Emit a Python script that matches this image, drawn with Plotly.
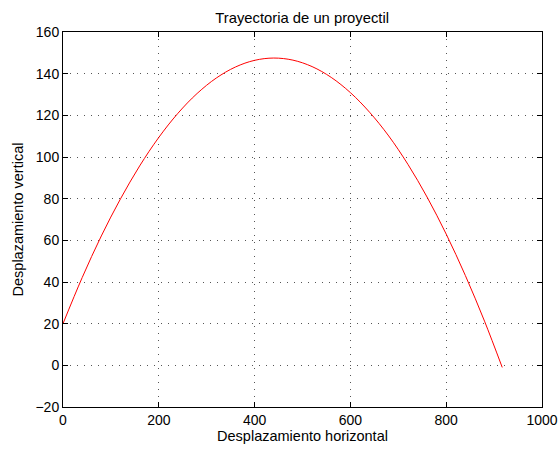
import plotly.graph_objects as go

# Data
x_desp = [0, 40, 80, 120, 160, 200, 240, 280, 320, 360, 400, 440, 480, 520,
          560, 600, 640, 680, 720, 760, 800, 840, 880, 917]
y_desp = [20.0, 42.1, 62.1, 79.9, 95.7, 109.4, 121.0, 130.5, 137.9, 143.2,
          146.4, 147.5, 146.5, 143.4, 138.2, 130.9, 121.5, 110.1, 96.5, 80.8,
          63.0, 43.1, 21.2, -1.0]
x_ticks = [0, 200, 400, 600, 800, 1000]
y_ticks = [-20, 0, 20, 40, 60, 80, 100, 120, 140, 160]

title_text = "Trayectoria de un proyectil"
x_label = "Desplazamiento horizontal"
y_label = "Desplazamiento vertical"

FONT = "Liberation Sans, Arial, Helvetica, sans-serif"

fig = go.Figure()
fig.add_trace(go.Scatter(
    x=x_desp, y=y_desp, mode="lines",
    line=dict(color="#ff0000", width=1, shape="spline"),
    showlegend=False, hoverinfo="skip",
))

axis_common = dict(
    showline=True, linecolor="black", linewidth=1, mirror="ticks",
    ticks="inside", ticklen=5, tickcolor="black", tickwidth=1,
    showgrid=True, gridcolor="#555555", gridwidth=1, griddash="1px,6px",
    zeroline=False, automargin=False,
    tickfont=dict(family=FONT, size=14, color="black"),
)

fig.update_layout(
    width=558, height=449,
    margin=dict(l=63, r=16, t=32, b=42),
    paper_bgcolor="white", plot_bgcolor="white",
    font=dict(family=FONT, color="black"),
    title=dict(text=title_text, x=0.5415, xanchor="center",
               y=1 - 17.5 / 449, yanchor="middle", yref="container",
               font=dict(family=FONT, size=14.8, color="black")),
    xaxis=dict(range=[0, 1000], tickvals=x_ticks,
               title=dict(text=x_label, standoff=0,
                          font=dict(family=FONT, size=14.5, color="black")),
               **axis_common),
    yaxis=dict(range=[-20, 160], tickvals=y_ticks,
               title=dict(text=y_label, standoff=8,
                          font=dict(family=FONT, size=14.5, color="black")),
               **axis_common),
)

fig.write_html("out.html")
